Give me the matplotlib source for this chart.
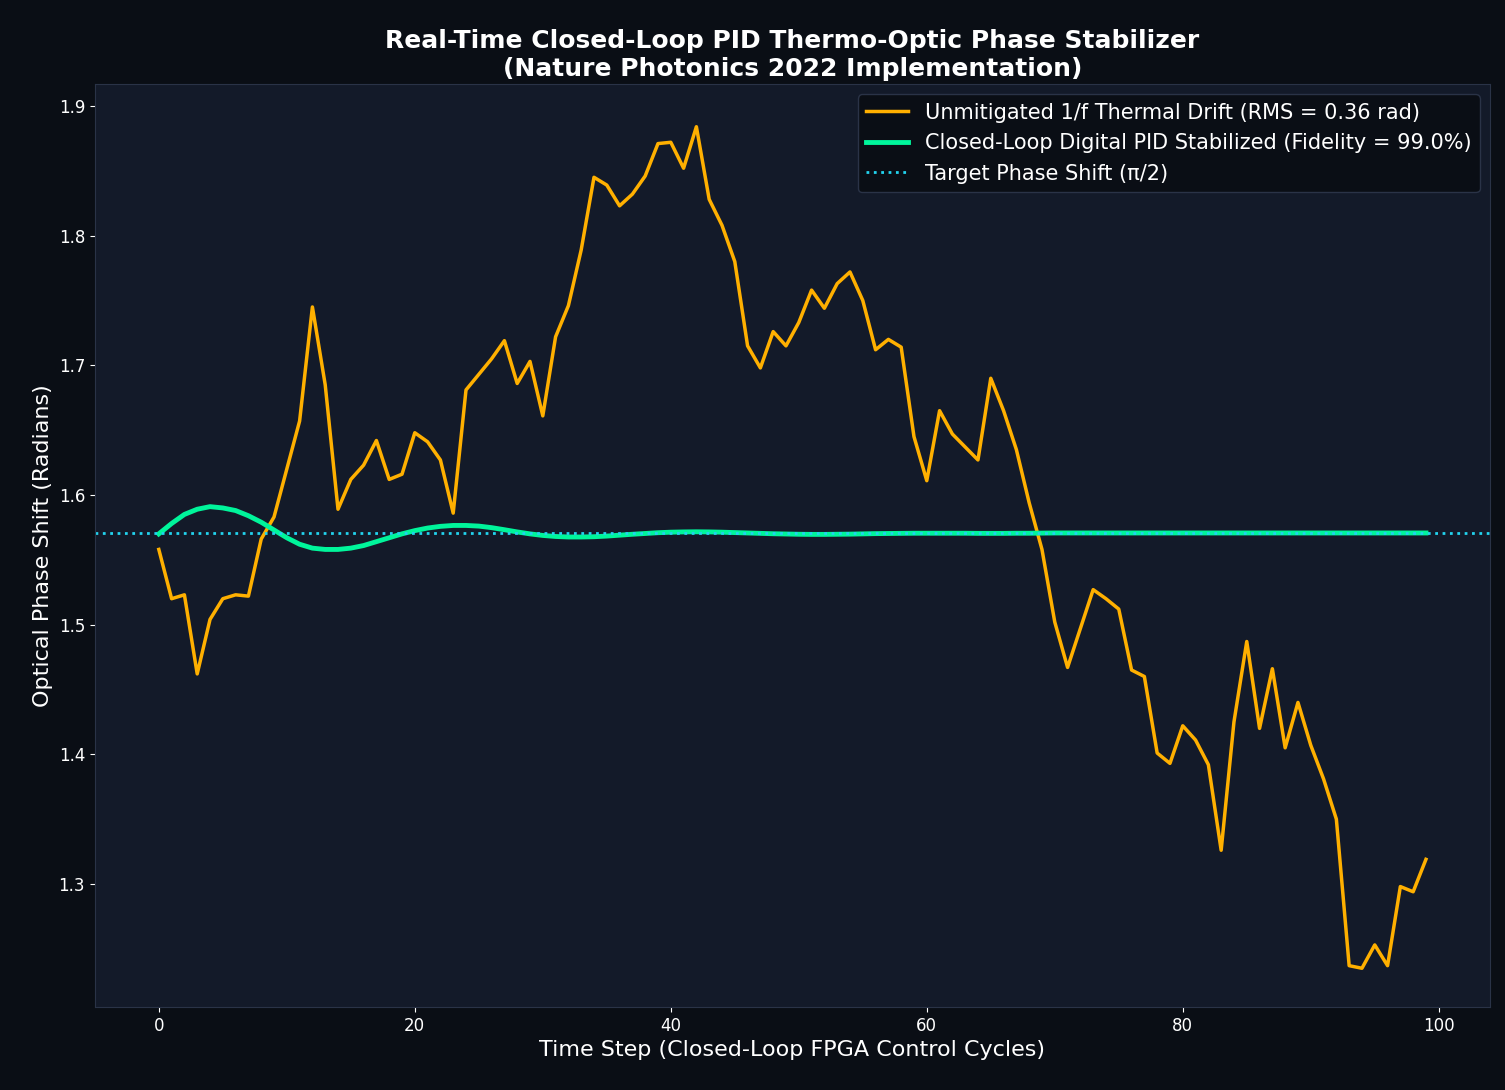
import numpy as np
import matplotlib.pyplot as plt

# readings from the chart
steps = list(range(100))
drift = [1.558, 1.520, 1.523, 1.462, 1.504, 1.520, 1.523, 1.522, 1.566, 1.583,
         1.620, 1.657, 1.745, 1.685, 1.589, 1.612, 1.623, 1.642, 1.612, 1.616,
         1.648, 1.641, 1.627, 1.586, 1.681, 1.693, 1.705, 1.719, 1.686, 1.703,
         1.661, 1.722, 1.746, 1.789, 1.845, 1.839, 1.823, 1.832, 1.846, 1.871,
         1.872, 1.852, 1.884, 1.828, 1.808, 1.780, 1.715, 1.698, 1.726, 1.715,
         1.733, 1.758, 1.744, 1.763, 1.772, 1.750, 1.712, 1.720, 1.714, 1.645,
         1.611, 1.665, 1.647, 1.637, 1.627, 1.690, 1.665, 1.635, 1.594, 1.558,
         1.502, 1.467, 1.497, 1.527, 1.520, 1.512, 1.465, 1.460, 1.401, 1.393,
         1.422, 1.411, 1.392, 1.326, 1.425, 1.487, 1.420, 1.466, 1.405, 1.440,
         1.407, 1.381, 1.350, 1.237, 1.235, 1.253, 1.237, 1.298, 1.294, 1.319]
stabilized = [1.5700, 1.5780, 1.5850, 1.5890, 1.5910, 1.5900, 1.5880, 1.5840, 1.5790, 1.5730,
              1.5670, 1.5620, 1.5590, 1.5580, 1.5580, 1.5590, 1.5610, 1.5640, 1.5670, 1.5700,
              1.5725, 1.5745, 1.5758, 1.5765, 1.5765, 1.5760, 1.5748, 1.5732, 1.5715, 1.5700,
              1.5688, 1.5680, 1.5676, 1.5676, 1.5678, 1.5683, 1.5690, 1.5697, 1.5703, 1.5709,
              1.5713, 1.5715, 1.5716, 1.5715, 1.5713, 1.5710, 1.5707, 1.5704, 1.5701, 1.5699,
              1.5697, 1.5696, 1.5696, 1.5697, 1.5698, 1.5700, 1.5702, 1.5703, 1.5704, 1.5705,
              1.5705, 1.5705, 1.5705, 1.5705, 1.5704, 1.5704, 1.5704, 1.5705, 1.5705, 1.5706] + [1.5707] * 30
target = np.pi / 2

fig, ax = plt.subplots(figsize=(15.05, 10.9), dpi=100)
fig.patch.set_facecolor('#0a0e15')
ax.set_facecolor('#131a29')
for s in ax.spines.values():
    s.set_color('#2a3347')

ax.plot(steps, drift, color='#ffb000', lw=2.5, label='Unmitigated 1/f Thermal Drift (RMS = 0.36 rad)')
ax.plot(steps, stabilized, color='#00f59b', lw=3.5, label='Closed-Loop Digital PID Stabilized (Fidelity = 99.0%)')
ax.axhline(target, color='#22d3ee', ls=':', lw=2, label='Target Phase Shift (π/2)')

ax.set_xlim(-5, 104)
ax.set_ylim(1.205, 1.917)
ax.set_title('Real-Time Closed-Loop PID Thermo-Optic Phase Stabilizer\n(Nature Photonics 2022 Implementation)',
             color='white', fontsize=18, fontweight='bold')
ax.set_xlabel('Time Step (Closed-Loop FPGA Control Cycles)', color='white', fontsize=16)
ax.set_ylabel('Optical Phase Shift (Radians)', color='white', fontsize=16)
ax.tick_params(colors='white', labelsize=12)

leg = ax.legend(loc='upper right', fontsize=15, facecolor='#0a0e15', edgecolor='#2a3347', framealpha=1)
for t in leg.get_texts():
    t.set_color('white')

plt.subplots_adjust(left=0.063, right=0.99, top=0.923, bottom=0.076)
plt.savefig('out.png', dpi=100, facecolor=fig.get_facecolor())
